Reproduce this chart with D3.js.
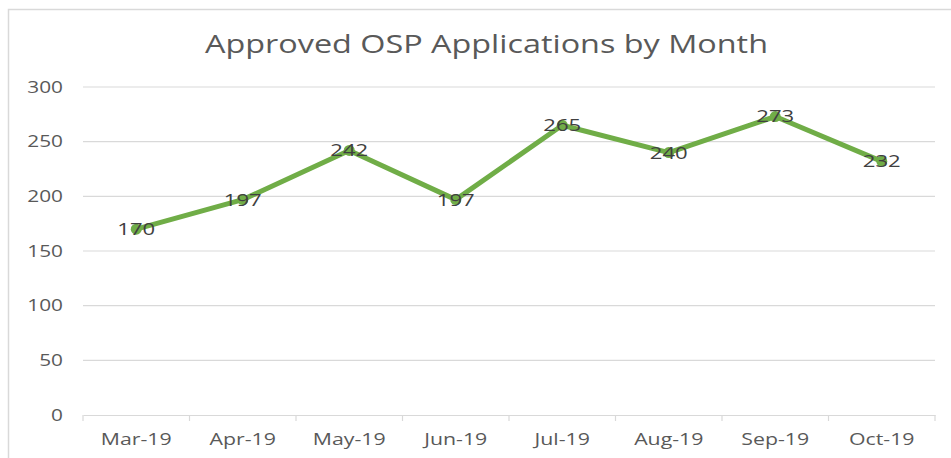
<!DOCTYPE html>
<html>
<head>
<meta charset="utf-8">
<script src="https://cdn.jsdelivr.net/npm/d3@7"></script>
<style>
  body { margin: 0; background: #fff; }
  svg { display: block; font-family: "Open Sans", "Noto Sans", sans-serif; }
</style>
</head>
<body>
<svg id="chart" width="951" height="458"></svg>
<script>
// ---- data -------------------------------------------------------------------
const months = ['Mar-19', 'Apr-19', 'May-19', 'Jun-19', 'Jul-19', 'Aug-19', 'Sep-19', 'Oct-19'];
const approved = [170, 197, 242, 197, 265, 240, 273, 232];
const yTicks = [0, 50, 100, 150, 200, 250, 300];
const title = 'Approved OSP Applications by Month';

// ---- layout -----------------------------------------------------------------
const svg = d3.select('#chart');
const m = { left: 83, right: 16, top: 87, bottom: 43 };
const W = 951, H = 458;

// reference text is drawn wide: stretch each glyph run horizontally
function stretch(sel, k) {
  sel.each(function () {
    const w = this.getComputedTextLength();
    d3.select(this).attr('textLength', w * k).attr('lengthAdjust', 'spacingAndGlyphs');
  });
}

// outer chart-area frame (top + left edges visible)
svg.append('path')
  .attr('d', `M8.5,${H} L8.5,9.5 L${W},9.5`)
  .attr('fill', 'none').attr('stroke', '#d9d9d9').attr('stroke-width', 1.5);

const x = d3.scaleBand().domain(months).range([m.left, W - m.right]);
const y = d3.scaleLinear().domain([0, 300]).range([H - m.bottom, m.top]);

// gridlines
svg.append('g').selectAll('line').data(yTicks.filter(d => d > 0)).join('line')
  .attr('x1', m.left).attr('x2', W - m.right)
  .attr('y1', d => y(d)).attr('y2', d => y(d))
  .attr('stroke', '#d9d9d9').attr('stroke-width', 1.2);

// y labels
svg.append('g').selectAll('text').data(yTicks).join('text')
  .attr('x', 63).attr('y', d => y(d)).attr('dy', '0.35em')
  .attr('text-anchor', 'end').attr('font-size', 16).attr('fill', '#595959')
  .text(d => d)
  .call(stretch, 1.3);

// x axis
const xAxis = svg.append('g').attr('transform', `translate(0,${y(0)})`)
  .call(d3.axisBottom(x).tickSize(0).tickPadding(19));
xAxis.select('.domain').attr('stroke', '#d9d9d9').attr('stroke-width', 1.2);
xAxis.selectAll('text').attr('font-size', 16).attr('fill', '#595959')
  .attr('font-family', '"Open Sans", "Noto Sans", sans-serif')
  .call(stretch, 1.33);
// category boundary ticks
const bounds = months.map(d => x(d)).concat([W - m.right]);
xAxis.selectAll('.bound').data(bounds).join('line').attr('class', 'bound')
  .attr('x1', d => d).attr('x2', d => d).attr('y1', 0).attr('y2', 6)
  .attr('stroke', '#d9d9d9').attr('stroke-width', 1.2);

// title
svg.append('text')
  .attr('x', 486.5).attr('y', 53).attr('text-anchor', 'middle')
  .attr('font-size', 25).attr('fill', '#595959')
  .text(title)
  .attr('textLength', 563).attr('lengthAdjust', 'spacingAndGlyphs');

// series
const cx = d => x(d) + x.bandwidth() / 2;
const pts = months.map((mo, i) => [cx(mo), y(approved[i])]);
svg.append('path').datum(pts)
  .attr('d', d3.line())
  .attr('fill', 'none').attr('stroke', '#70ad47').attr('stroke-width', 5)
  .attr('stroke-linejoin', 'round');
svg.append('g').selectAll('circle').data(pts).join('circle')
  .attr('cx', d => d[0]).attr('cy', d => d[1]).attr('r', 5.5)
  .attr('fill', '#70ad47');

// data labels
svg.append('g').selectAll('text').data(months).join('text')
  .attr('x', cx).attr('y', (d, i) => y(approved[i])).attr('dy', '0.35em')
  .attr('text-anchor', 'middle').attr('font-size', 17).attr('fill', '#404040')
  .text((d, i) => approved[i])
  .call(stretch, 1.3);
</script>
</body>
</html>
